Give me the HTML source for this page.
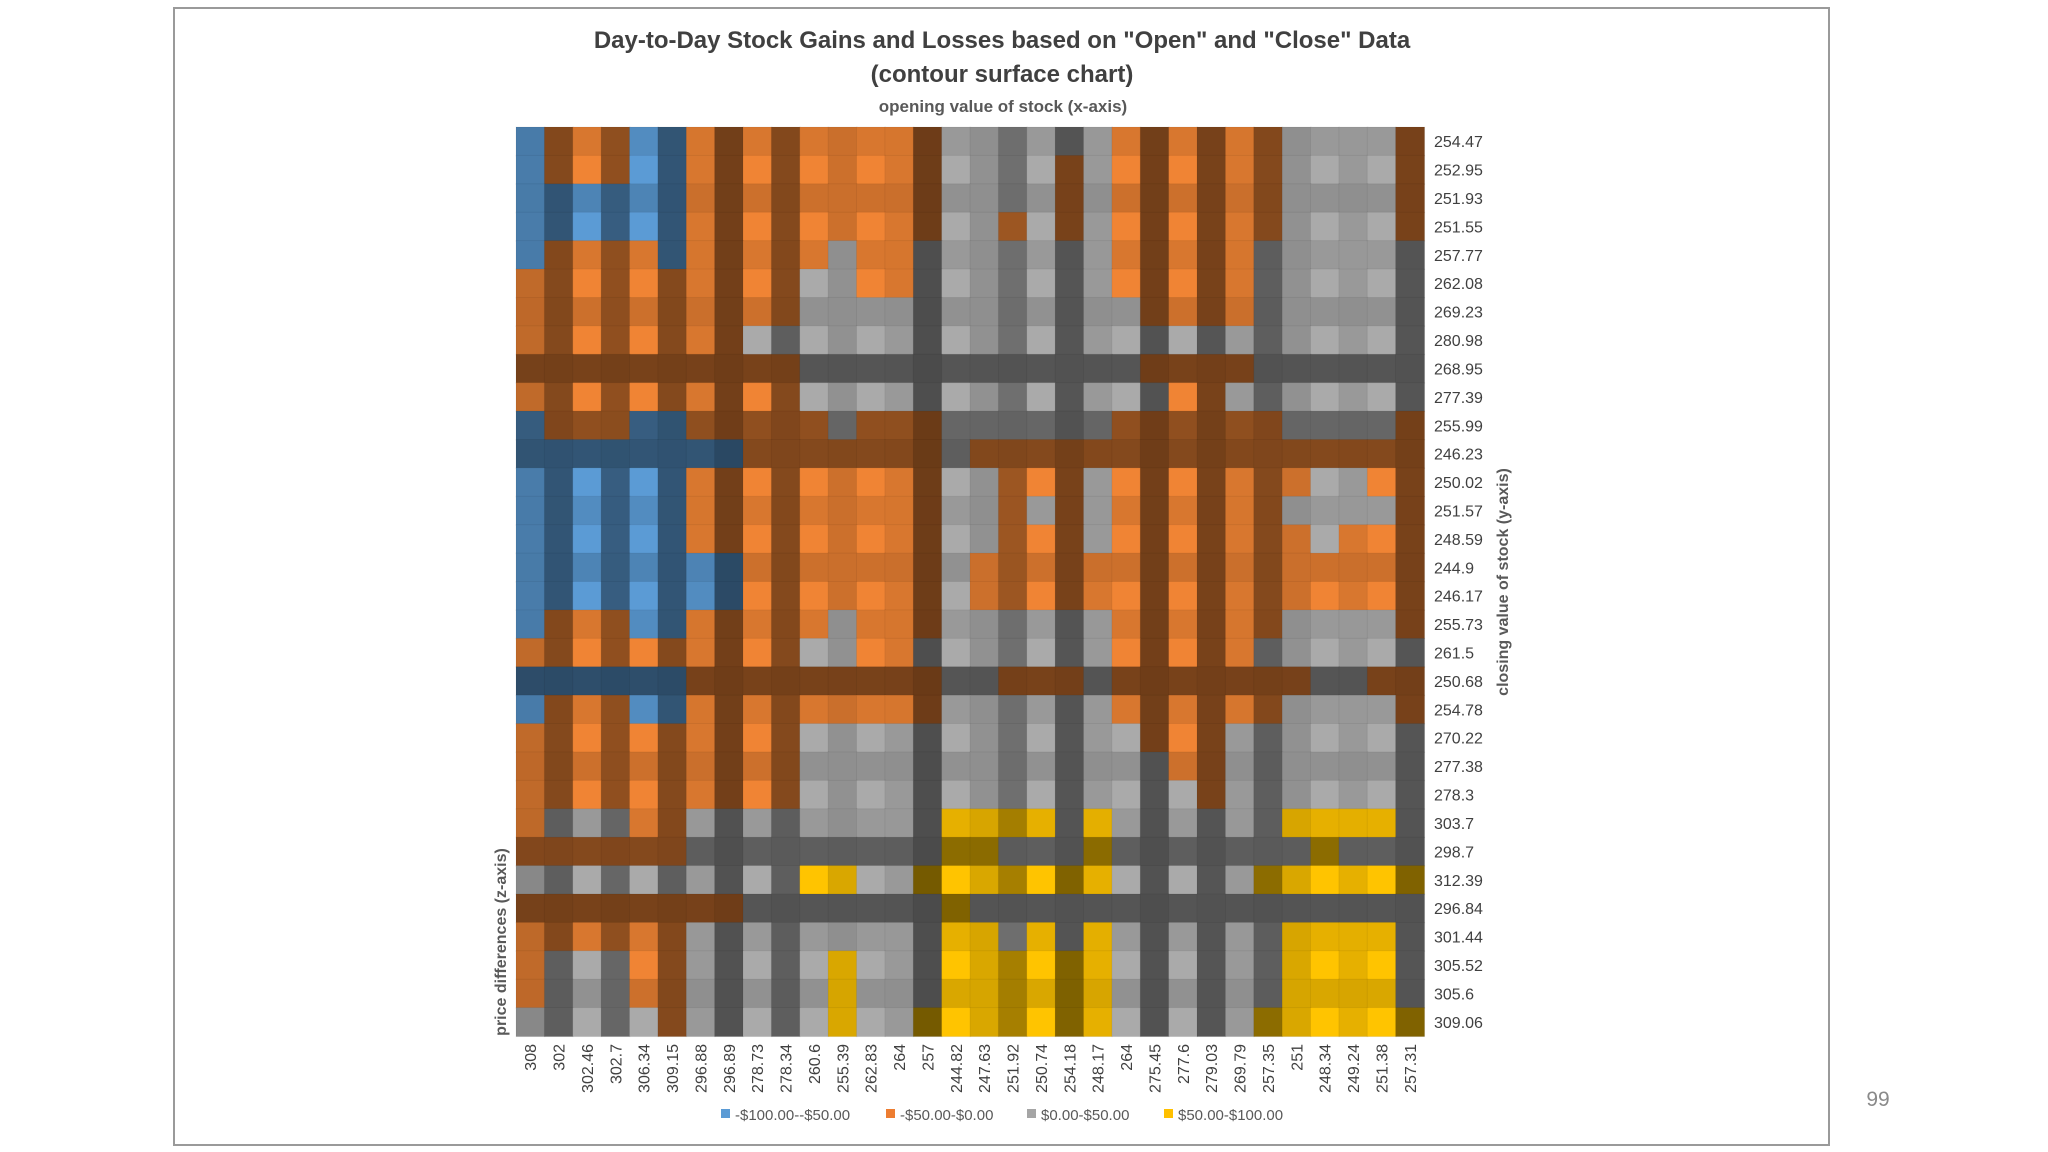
<!DOCTYPE html>
<html><head><meta charset="utf-8"><style>
html,body{margin:0;padding:0;background:#fff;}
svg{display:block;font-family:"Liberation Sans",sans-serif;}
</style></head><body>
<svg id="chart" width="2048" height="1152" viewBox="0 0 2048 1152">
<rect x="174" y="8" width="1655" height="1137" fill="#fff" stroke="#9a9a9a" stroke-width="2"/>
<text x="1002" y="48" text-anchor="middle" font-size="24" font-weight="bold" fill="#404040">Day-to-Day Stock Gains and Losses based on "Open" and "Close" Data</text>
<text x="1002" y="82" text-anchor="middle" font-size="24" font-weight="bold" fill="#404040">(contour surface chart)</text>
<text x="1003" y="112" text-anchor="middle" font-size="17" font-weight="bold" fill="#595959">opening value of stock (x-axis)</text>
<g id="cells"></g>
<g id="ylabels"></g>
<g id="xlabels"></g>
<text transform="translate(1508,582) rotate(-90)" text-anchor="middle" font-size="16" font-weight="bold" fill="#595959">closing value of stock (y-axis)</text>
<text transform="translate(506,942) rotate(-90)" text-anchor="middle" font-size="16" font-weight="bold" fill="#595959">price differences (z-axis)</text>
<g font-size="15" fill="#595959">
<g><rect x="721" y="1109" width="9" height="9" fill="#5B9BD5"/><text x="735" y="1120">-$100.00--$50.00</text></g>
<g><rect x="886" y="1109" width="9" height="9" fill="#ED7D31"/><text x="900" y="1120">-$50.00-$0.00</text></g>
<g><rect x="1027" y="1109" width="9" height="9" fill="#A5A5A5"/><text x="1041" y="1120">$0.00-$50.00</text></g>
<g><rect x="1164" y="1109" width="9" height="9" fill="#FFC000"/><text x="1178" y="1120">$50.00-$100.00</text></g>
</g>
<text x="1878" y="1106" text-anchor="middle" font-size="21" fill="#8a8a8a">99</text>
</svg>
<script>
const opens = [308,302,302.46,302.7,306.34,309.15,296.88,296.89,278.73,278.34,260.6,255.39,262.83,264,257,244.82,247.63,251.92,250.74,254.18,248.17,264,275.45,277.6,279.03,269.79,257.35,251,248.34,249.24,251.38,257.31];
const closes = [254.47,252.95,251.93,251.55,257.77,262.08,269.23,280.98,268.95,277.39,255.99,246.23,250.02,251.57,248.59,244.9,246.17,255.73,261.5,250.68,254.78,270.22,277.38,278.3,303.7,298.7,312.39,296.84,301.44,305.52,305.6,309.06];
const openLabels = ["308","302","302.46","302.7","306.34","309.15","296.88","296.89","278.73","278.34","260.6","255.39","262.83","264","257","244.82","247.63","251.92","250.74","254.18","248.17","264","275.45","277.6","279.03","269.79","257.35","251","248.34","249.24","251.38","257.31"];
const closeLabels = ["254.47","252.95","251.93","251.55","257.77","262.08","269.23","280.98","268.95","277.39","255.99","246.23","250.02","251.57","248.59","244.9","246.17","255.73","261.5","250.68","254.78","270.22","277.38","278.3","303.7","298.7","312.39","296.84","301.44","305.52","305.6","309.06"];
const bandColors = [[91,155,213],[240,132,52],[170,170,170],[255,196,0]];
const colShade = [0.8,0.55,1,0.6,1,0.55,0.9,0.48,1,0.55,1,0.85,1,0.9,0.46,1,0.85,0.65,1,0.5,0.9,1,0.48,1,0.5,0.9,0.55,0.85,1,0.9,1,0.5];
const rowShade = [0.9,1,0.85,1,0.9,1,0.85,1,0.5,1,0.6,0.55,1,0.9,1,0.85,1,0.9,1,0.5,0.9,1,0.85,1,0.9,0.55,1,0.5,0.9,1,0.85,1];
const X0=516,Y0=127,W=908,H=909;
const cw=W/opens.length, ch=H/closes.length;
const xScale=i=>X0+i*cw, yScale=j=>Y0+j*ch;
function band(v){return v<-50?0:v<0?1:v<50?2:3;}
const NS="http://www.w3.org/2000/svg";
const g=document.getElementById('cells');
closes.forEach((c,j)=>{opens.forEach((o,i)=>{
  const d=c-o;
  const base=bandColors[band(d)];
  const f=Math.min(colShade[i],rowShade[j])*(0.92+0.08*Math.max(colShade[i],rowShade[j]));
  const col=base.map(v=>Math.round(v*f));
  const r=document.createElementNS(NS,'rect');
  r.setAttribute('x',xScale(i).toFixed(2));r.setAttribute('y',yScale(j).toFixed(2));
  r.setAttribute('width',(cw+0.6).toFixed(2));r.setAttribute('height',(ch+0.6).toFixed(2));
  r.setAttribute('fill','rgb('+col.join(',')+')');
  r.setAttribute('stroke','rgba(0,0,0,0.06)');
  
  
  g.appendChild(r);
});});
const yl=document.getElementById('ylabels');
closeLabels.forEach((t,j)=>{
  const e=document.createElementNS(NS,'text');
  e.setAttribute('x',1434);e.setAttribute('y',(yScale(j)+ch/2+6).toFixed(1));
  e.setAttribute('font-size','16');e.setAttribute('fill','#404040');
  e.textContent=t;
  
  
  yl.appendChild(e);
});
const xl=document.getElementById('xlabels');
openLabels.forEach((t,i)=>{
  const e=document.createElementNS(NS,'text');
  const x=xScale(i)+cw/2+6;
  e.setAttribute('transform','translate('+x.toFixed(1)+',1044) rotate(-90)');
  e.setAttribute('text-anchor','end');
  e.setAttribute('font-size','16');e.setAttribute('fill','#404040');
  e.textContent=t;
  
  
  xl.appendChild(e);
});
</script>
</body></html>
